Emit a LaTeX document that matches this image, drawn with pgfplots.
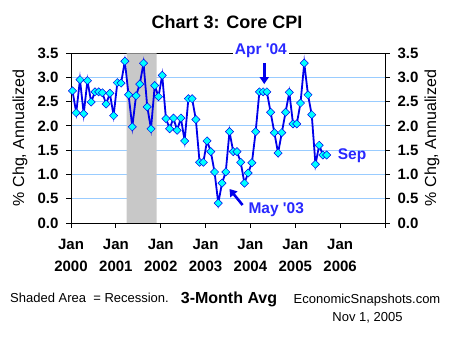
\documentclass[border=0pt]{standalone}
\usepackage{pgfplots}
\pgfplotsset{compat=1.18}
\usepackage{pgfplotstable}
\usetikzlibrary{arrows.meta}
\usepackage{fontspec}
\setmainfont{Liberation Sans}
\newfontfamily\annfont{Liberation Sans}
\definecolor{serblue}{RGB}{0,0,235}
\definecolor{txtblue}{RGB}{40,40,255}
\definecolor{mkcyan}{RGB}{0,255,255}
\definecolor{gridblue}{RGB}{153,204,255}
\definecolor{shade}{RGB}{200,200,200}
\pgfplotstableread{
m v
0 2.72
1 2.27
2 2.95
3 2.25
4 2.93
5 2.49
6 2.70
7 2.70
8 2.68
9 2.45
10 2.67
11 2.21
12 2.89
13 2.88
14 3.33
15 2.64
16 1.98
17 2.62
18 2.86
19 3.29
20 2.39
21 1.94
22 2.83
23 2.60
24 3.04
25 2.15
26 1.94
27 2.16
28 1.91
29 2.16
30 1.69
31 2.56
32 2.56
33 2.13
34 1.25
35 1.25
36 1.69
37 1.47
38 1.05
39 0.41
40 0.82
41 1.05
42 1.88
43 1.47
44 1.47
45 1.25
46 0.82
47 1.03
48 1.24
49 1.88
50 2.70
51 2.70
52 2.70
53 2.28
54 1.86
55 1.44
56 1.86
57 2.28
58 2.69
59 2.04
60 2.04
61 2.47
62 3.29
63 2.64
64 2.23
65 1.21
66 1.60
67 1.40
68 1.40
}\cpi
\pgfplotsset{ynum/.style={/pgf/number format/fixed, /pgf/number format/fixed zerofill, /pgf/number format/precision=1, /pgf/number format/assume math mode=true}}
\begin{document}
\begin{tikzpicture}[x=1pt,y=1pt]
\useasboundingbox (0,0) rectangle (455,339);
\begin{axis}[
  at={(71pt,116pt)}, anchor=south west,
  scale only axis, width=314pt, height=170pt,
  xmin=0, xmax=84, ymin=0, ymax=3.5,
  clip=false,
  axis line style={black, line width=0.9pt},
  xtick={0,12,24,36,48,60,72,84},
  xticklabels={{Jan\\2000},{Jan\\2001},{Jan\\2002},{Jan\\2003},{Jan\\2004},{Jan\\2005},{Jan\\2006},{}},
  xtick pos=bottom, ytick pos=left,
  tick align=outside, major tick length=5pt,
  tick style={black, line width=0.9pt},
  ytick={0,0.5,...,3.5},
  ticklabel style={font=\bfseries\fontsize{15}{21.5}\selectfont},
  xticklabel style={align=center, yshift=-8pt},
  yticklabel style={xshift=-4pt, ynum},
  ymajorgrids, grid style={gridblue, line width=0.9pt},
  every axis y label/.style={at={(axis description cs:-0.1624,0.5)}, rotate=90, anchor=center, font=\fontsize{16}{16}\selectfont},
  ylabel={\% Chg, Annualized},
]
\addplot[fill=shade, draw=none] coordinates {(14.9,0.01) (14.9,3.49) (22.9,3.49) (22.9,0.01)} \closedcycle;
\addplot[serblue, line width=1.8pt, mark=square*, mark size=2.9pt,
  mark options={fill=mkcyan, draw=serblue, line width=0.5pt, rotate=45}]
  table[x expr=\thisrow{m}+0.4, y=v] {\cpi};
\node[fill=white, text=txtblue, font=\annfont\bfseries\fontsize{15.5}{15.5}\selectfont, inner sep=2pt] at (axis cs:50.8,3.55) {Apr '04};
\draw[-{Triangle[length=7pt,width=9pt]}, serblue, line width=2.6pt] (axis cs:51.7,3.29) -- (axis cs:51.7,2.86);
\node[text=txtblue, font=\annfont\bfseries\fontsize{15.5}{15.5}\selectfont] at (axis cs:54.9,0.27) {May '03};
\draw[-{Triangle[length=7pt,width=9pt]}, serblue, line width=2.6pt] (axis cs:45.9,0.37) -- (axis cs:42.4,0.70);
\node[text=txtblue, font=\annfont\bfseries\fontsize{15.5}{15.5}\selectfont] at (axis cs:75.2,1.385) {Sep};
\end{axis}
\begin{axis}[
  at={(71pt,116pt)}, anchor=south west,
  scale only axis, width=314pt, height=170pt,
  xmin=0, xmax=84, ymin=0, ymax=3.5,
  axis x line=none, axis y line*=right,
  axis line style={black, line width=0.9pt, -},
  tick align=outside, major tick length=5pt,
  tick style={black, line width=0.9pt},
  ytick={0,0.5,...,3.5},
  ticklabel style={font=\bfseries\fontsize{15}{15}\selectfont},
  yticklabel style={xshift=4pt, ynum},
  every axis y label/.style={at={(axis description cs:1.1497,0.5)}, rotate=90, anchor=center, font=\fontsize{16}{16}\selectfont},
  ylabel={\% Chg, Annualized},
]
\end{axis}
\node[font=\bfseries\fontsize{18}{18}\selectfont] at (227,317) {Chart 3: Core CPI};
\node[anchor=west, font=\fontsize{13}{13}\selectfont, inner sep=0pt] at (10,41) {Shaded Area \ = Recession.};
\node[font=\bfseries\fontsize{16}{16}\selectfont] at (229,40) {3-Month Avg};
\node[font=\fontsize{13}{13}\selectfont] at (367,38.5) {EconomicSnapshots.com};
\node[font=\fontsize{13}{13}\selectfont] at (367.5,21) {Nov 1, 2005};
\end{tikzpicture}
\end{document}
